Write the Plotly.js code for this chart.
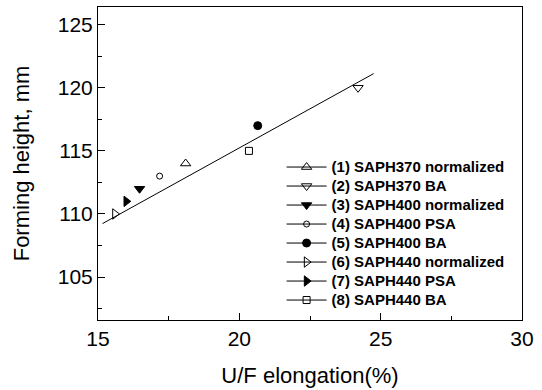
<!DOCTYPE html>
<html><head><meta charset="utf-8">
<script src="https://cdn.plot.ly/plotly-3.0.1.min.js"></script>
<style>html,body{margin:0;padding:0;background:#fff}#chart{width:542px;height:390px}</style>
</head><body><div id="chart"></div>
<script>
const names = ["(1) SAPH370 normalized","(2) SAPH370 BA","(3) SAPH400 normalized","(4) SAPH400 PSA","(5) SAPH400 BA","(6) SAPH440 normalized","(7) SAPH440 PSA","(8) SAPH440 BA"];
const elongation = [18.1, 24.2, 16.47, 17.18, 20.65, 15.6, 16.0, 20.34];
const height = [114, 120, 112, 113, 117, 110, 111, 115];
const symbols = ["triangle-up-open","triangle-down-open","triangle-down","circle-open","circle","triangle-right-open","triangle-right","square-open"];
const sizes = [9, 9, 9, 6, 8, 9, 9, 7];
const fitX = [15.16, 24.75];
const fitY = [109.24, 121.12];

const traces = names.map((n,i)=>({
  type:'scatter', mode:'lines+markers',
  name:'<span style="font-size:15px">' + n + '</span>',
  x:[elongation[i]], y:[height[i]],
  line:{color:'#000', width:1},
  marker:{symbol:symbols[i], size:sizes[i], color:'#000', line:{color:'#000', width:1}}
}));
traces.push({type:'scatter', mode:'lines', x:fitX, y:fitY, showlegend:false, line:{color:'#000', width:1}});

const FONT = 'Liberation Sans, Arial, sans-serif';
const axisCommon = {showgrid:false, zeroline:false, showline:true, linecolor:'#000', linewidth:1, mirror:true,
  ticks:'inside', ticklen:7, tickwidth:1, tickcolor:'#000',
  tickfont:{family:FONT, size:21, color:'#000'}};

const layout = {
  width:542, height:390,
  margin:{l:98, r:20, t:7, b:70},
  paper_bgcolor:'#fff', plot_bgcolor:'#fff',
  xaxis:Object.assign({}, axisCommon, {range:[15,30], tickvals:[15,20,25,30],
    minor:{dtick:2.5, ticks:'inside', ticklen:4, tickcolor:'#000'},
    title:{text:'U/F elongation(%)', font:{family:FONT, size:22, color:'#000'}, standoff:18}}),
  yaxis:Object.assign({}, axisCommon, {range:[101.6,126.4], tickvals:[105,110,115,120,125],
    minor:{dtick:2.5, ticks:'inside', ticklen:4, tickcolor:'#000'},
    title:{text:'Forming height, mm', font:{family:FONT, size:22, color:'#000'}, standoff:22}}),
  showlegend:true,
  legend:{x:0.433, y:0.535, xanchor:'left', yanchor:'top', bgcolor:'rgba(0,0,0,0)', itemwidth:40,
    font:{family:FONT, size:12.3, color:'#000', weight:'bold'}, tracegroupgap:0}
};
Plotly.newPlot('chart', traces, layout, {displayModeBar:false, staticPlot:true});
</script></body></html>
